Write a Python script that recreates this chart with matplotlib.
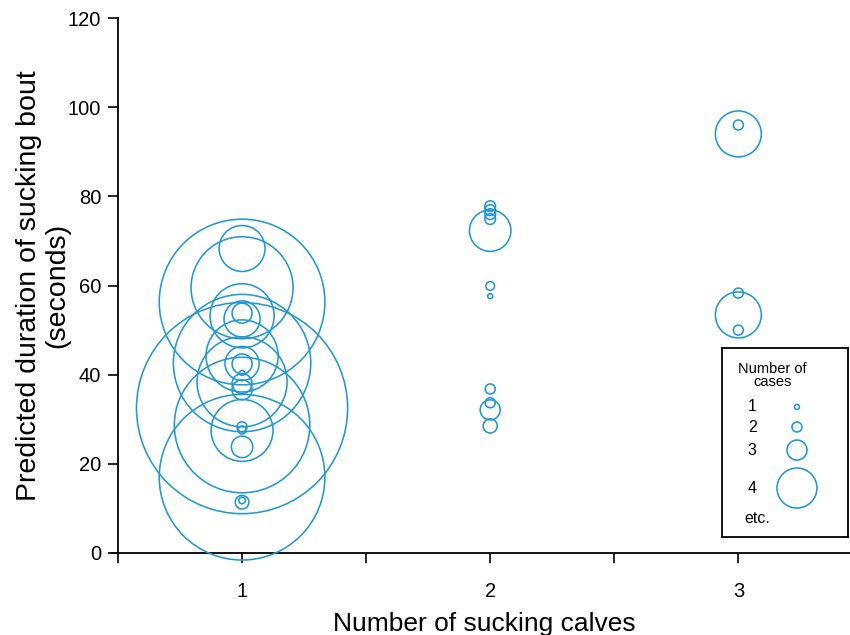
import matplotlib
matplotlib.use("Agg")
import matplotlib.pyplot as plt
import numpy as np

plt.rcParams["font.family"] = ["Liberation Sans", "DejaVu Sans"]

# predicted bout duration per number of sucking calves, bubble = number of cases
calves_1 = [68.3, 59.5, 56.3, 53.8, 52.5, 53.2, 44.2, 42.6, 42.5, 42.4, 40.4, 38.4,
            38.0, 36.6, 32.5, 28.7, 27.5, 28.3, 27.6, 23.8, 17.0, 11.4, 11.8]
cases_1 = [4.2, 5.35, 6.05, 3.0, 3.85, 4.68, 4.85, 5.78, 3.77, 3.0, 1.0, 5.17,
           3.0, 3.0, 6.4, 5.76, 4.63, 2.0, 1.7, 3.1, 6.05, 2.45, 1.4]

calves_2 = [77.8, 76.9, 76.0, 74.9, 72.3, 59.9, 57.6, 36.8, 33.7, 32.1, 28.5]
cases_2 = [2.1, 2.1, 2.1, 2.1, 4.05, 1.8, 1.0, 2.0, 2.0, 3.0, 2.5]

calves_3 = [96.0, 94.0, 58.3, 53.4, 50.0]
cases_3 = [2.0, 4.2, 2.0, 4.2, 2.0]

legend_cases = [1, 2, 3, 4]

COLOR = "#2298d2"
DPI = 100


def marker_area(n):
    # radius doubles with each extra case (2.5 px for a single case)
    r_px = 2.5 * 2 ** (np.asarray(n, dtype=float) - 1)
    r_pt = r_px * 72.0 / DPI
    return (2 * r_pt) ** 2


fig = plt.figure(figsize=(8.5, 6.35), dpi=DPI)
ax = fig.add_axes([118 / 850, 1 - 553 / 635, 1 - 118 / 850, (553 - 18) / 635])

for xpos, ys, ns in [(1, calves_1, cases_1), (2, calves_2, cases_2), (3, calves_3, cases_3)]:
    ax.scatter([xpos] * len(ys), ys, s=marker_area(ns), facecolors="none",
               edgecolors=COLOR, linewidths=1.15, clip_on=False, zorder=3)

ax.set_xlim(0.5, 3.45)
ax.set_ylim(0, 120)
ax.set_xticks([1, 2, 3])
ax.set_xticks([0.5, 1.5, 2.5], minor=True)
ax.set_yticks(range(0, 121, 20))
ax.tick_params(axis="both", which="both", direction="out", length=7, width=1.2,
               labelsize=14.5, color="black")
ax.tick_params(axis="x", pad=14)
ax.tick_params(axis="y", pad=5)
for side in ("top", "right"):
    ax.spines[side].set_visible(False)
for side in ("left", "bottom"):
    ax.spines[side].set_linewidth(1.3)
ax.spines["bottom"].set_bounds(0.475, 3.45)

ax.set_xlabel("Number of sucking calves", fontsize=19, labelpad=8)
ax.set_ylabel("Predicted duration of sucking bout\n(seconds)", fontsize=20.5,
              labelpad=-2, linespacing=1.15)

# legend box for bubble sizes
lax = fig.add_axes([722 / 850, 1 - 537 / 635, 126 / 850, 189 / 635])
lax.set_xlim(0, 1)
lax.set_ylim(0, 1)
lax.set_xticks([])
lax.set_yticks([])
for sp in lax.spines.values():
    sp.set_linewidth(1.3)
lax.text(0.40, 0.855, "Number of\ncases", ha="center", va="center", fontsize=10.5,
         linespacing=0.95)
row_y = [0.688, 0.582, 0.460, 0.259]
for n, yy in zip(legend_cases, row_y):
    lax.text(0.24, yy, str(n), ha="center", va="center", fontsize=11.5)
lax.scatter([0.595] * len(legend_cases), row_y, s=marker_area(legend_cases),
            facecolors="none", edgecolors=COLOR, linewidths=1.15)
lax.text(0.28, 0.10, "etc.", ha="center", va="center", fontsize=11.5)

fig.savefig("out.png", dpi=DPI)
